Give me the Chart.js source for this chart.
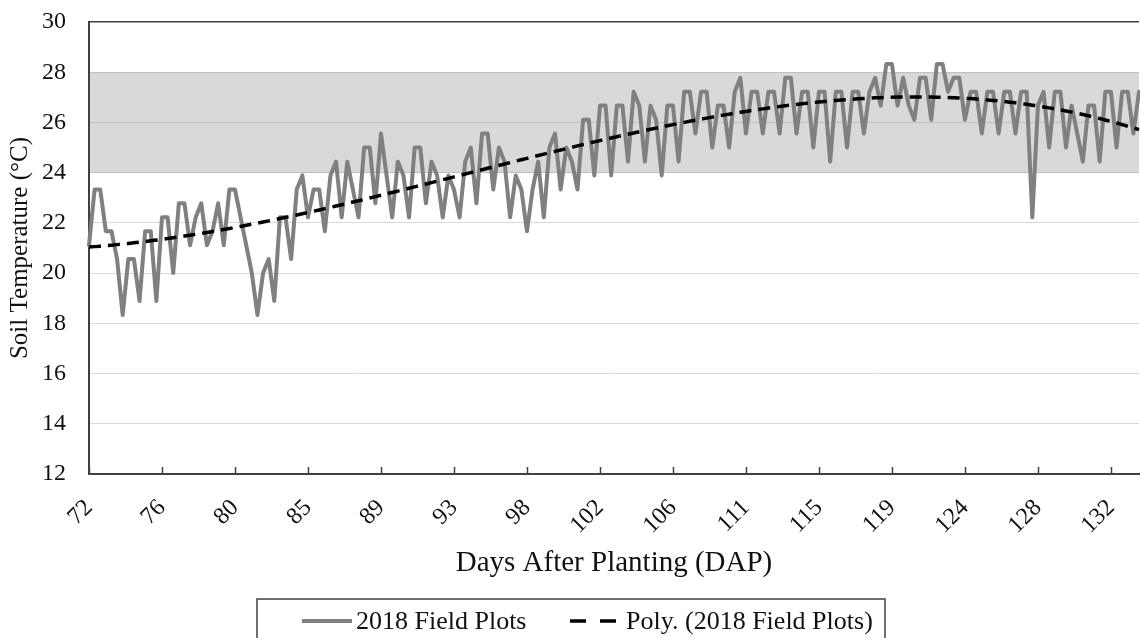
<!DOCTYPE html>
<html>
<head>
<meta charset="utf-8">
<script src="https://cdn.jsdelivr.net/npm/chart.js@4.4.1/dist/chart.umd.min.js"></script>
<style>
  html, body { margin: 0; padding: 0; background: #ffffff; overflow: hidden; }
  #wrap { width: 1140px; height: 638px; position: relative; }
</style>
</head>
<body>
<div id="wrap"><canvas id="soilChart" width="1140" height="638"></canvas></div>
<script>
// Soil temperature (°C) in the 2018 field plots, three readings per day from 72 DAP
const soilTemp2018 = [
  21.11, 23.33, 23.33, 21.67, 21.67, 20.56, 18.33, 20.56, 20.56, 18.89,
  21.67, 21.67, 18.89, 22.22, 22.22, 20.00, 22.78, 22.78, 21.11, 22.22,
  22.78, 21.11, 21.67, 22.78, 21.11, 23.33, 23.33, 22.22, 21.11, 20.00,
  18.33, 20.00, 20.56, 18.89, 22.22, 22.22, 20.56, 23.33, 23.89, 22.22,
  23.33, 23.33, 21.67, 23.89, 24.44, 22.22, 24.44, 23.33, 22.22, 25.00,
  25.00, 22.78, 25.56, 23.89, 22.22, 24.44, 23.89, 22.22, 25.00, 25.00,
  22.78, 24.44, 23.89, 22.22, 23.89, 23.33, 22.22, 24.44, 25.00, 22.78,
  25.56, 25.56, 23.33, 25.00, 24.44, 22.22, 23.89, 23.33, 21.67, 23.33,
  24.44, 22.22, 25.00, 25.56, 23.33, 25.00, 24.44, 23.33, 26.11, 26.11,
  23.89, 26.67, 26.67, 23.89, 26.67, 26.67, 24.44, 27.22, 26.67, 24.44,
  26.67, 26.11, 23.89, 26.67, 26.67, 24.44, 27.22, 27.22, 25.56, 27.22,
  27.22, 25.00, 26.67, 26.67, 25.00, 27.22, 27.78, 25.56, 27.22, 27.22,
  25.56, 27.22, 27.22, 25.56, 27.78, 27.78, 25.56, 27.22, 27.22, 25.00,
  27.22, 27.22, 24.44, 27.22, 27.22, 25.00, 27.22, 27.22, 25.56, 27.22,
  27.78, 26.67, 28.33, 28.33, 26.67, 27.78, 26.67, 26.11, 27.78, 27.78,
  26.11, 28.33, 28.33, 27.22, 27.78, 27.78, 26.11, 27.22, 27.22, 25.56,
  27.22, 27.22, 25.56, 27.22, 27.22, 25.56, 27.22, 27.22, 22.22, 26.67,
  27.22, 25.00, 27.22, 27.22, 25.00, 26.67, 25.56, 24.44, 26.67, 26.67,
  24.44, 27.22, 27.22, 25.00, 27.22, 27.22, 25.56, 27.22
];

const firstDay = 72;          // DAP of the first reading
const readingsPerDay = 3;
const labelEvery = 13;        // one day label per 13 readings
const optimalBand = [24, 28]; // shaded temperature range (°C)
const yRange = [12, 30];
const yStep = 2;
const trendOrder = 3;         // order of the polynomial trend line

const seriesName = '2018 Field Plots';
const trendName = 'Poly. (2018 Field Plots)';

// Category per reading: the planting day it falls on
const categories = soilTemp2018.map((_, i) => String(Math.floor(firstDay + i / readingsPerDay)));

// Least-squares polynomial trend through the readings
function polyTrend(ys, order) {
  const n = ys.length;
  const xs = ys.map((_, i) => i / (n - 1));
  const m = order + 1;
  const A = Array.from({ length: m }, () => new Array(m + 1).fill(0));
  for (let i = 0; i < n; i++) {
    const p = [];
    for (let k = 0; k < m; k++) p.push(Math.pow(xs[i], k));
    for (let r = 0; r < m; r++) {
      for (let c = 0; c < m; c++) A[r][c] += p[r] * p[c];
      A[r][m] += p[r] * ys[i];
    }
  }
  for (let col = 0; col < m; col++) {
    let piv = col;
    for (let r = col + 1; r < m; r++) if (Math.abs(A[r][col]) > Math.abs(A[piv][col])) piv = r;
    [A[col], A[piv]] = [A[piv], A[col]];
    for (let r = 0; r < m; r++) {
      if (r === col) continue;
      const f = A[r][col] / A[col][col];
      for (let c = col; c <= m; c++) A[r][c] -= f * A[col][c];
    }
  }
  const coef = A.map((row, r) => row[m] / row[r]);
  return xs.map(x => coef.reduce((s, c, k) => s + c * Math.pow(x, k), 0));
}
const trend2018 = polyTrend(soilTemp2018, trendOrder);

const SERIF = '"Liberation Serif", "Times New Roman", serif';
const TICK_FONT = { family: SERIF, size: 24 };
const XTITLE_FONT = { family: SERIF, size: 29 };
const YTITLE_FONT = { family: SERIF, size: 25 };
const LEGEND_FONT = { family: SERIF, size: 26 };
const TEXT = '#111111';
const AXIS = '#404040';

// Grey band behind the grid marking the optimal range
const bandPlugin = {
  id: 'optimalBand',
  beforeDraw(chart, args, opts) {
    const { ctx, chartArea: a, scales: { y } } = chart;
    const top = y.getPixelForValue(optimalBand[1]);
    const bottom = y.getPixelForValue(optimalBand[0]);
    ctx.save();
    ctx.fillStyle = opts.color;
    ctx.fillRect(a.left, top, a.right - a.left, bottom - top);
    ctx.restore();
  }
};

// Short inward tick marks on the day axis
const innerTicksPlugin = {
  id: 'innerTicks',
  afterDraw(chart, args, opts) {
    const { ctx, scales: { x } } = chart;
    ctx.save();
    ctx.strokeStyle = opts.color;
    ctx.lineWidth = opts.width;
    x.ticks.forEach((t, k) => {
      const px = Math.round(x.getPixelForTick(k)) + 0.5;
      ctx.beginPath();
      ctx.moveTo(px, x.top);
      ctx.lineTo(px, x.top - opts.length);
      ctx.stroke();
    });
    ctx.restore();
  }
};

// Framed legend under the chart
const framedLegendPlugin = {
  id: 'framedLegend',
  afterDraw(chart, args, opts) {
    const ctx = chart.ctx;
    const f = opts.frame;
    ctx.save();
    ctx.fillStyle = '#ffffff';
    ctx.fillRect(f.left, f.top, f.right - f.left, f.bottom - f.top);
    ctx.strokeStyle = opts.frameColor;
    ctx.lineWidth = 1.5;
    ctx.strokeRect(f.left, f.top, f.right - f.left, f.bottom - f.top);
    ctx.font = `${LEGEND_FONT.size}px ${LEGEND_FONT.family}`;
    ctx.textBaseline = 'middle';
    ctx.textAlign = 'left';
    chart.data.datasets.forEach((ds, i) => {
      const it = opts.items[i];
      ctx.save();
      ctx.strokeStyle = ds.borderColor;
      ctx.lineWidth = ds.borderWidth;
      ctx.setLineDash(it.dash || []);
      ctx.beginPath();
      ctx.moveTo(it.x, opts.y);
      ctx.lineTo(it.x + it.w, opts.y);
      ctx.stroke();
      ctx.restore();
      ctx.fillStyle = TEXT;
      ctx.fillText(ds.label, it.textX, opts.y + 1);
    });
    ctx.restore();
  }
};

new Chart(document.getElementById('soilChart'), {
  type: 'line',
  data: {
    labels: categories,
    datasets: [
      {
        label: seriesName,
        data: soilTemp2018,
        borderColor: '#808080',
        borderWidth: 4,
        pointRadius: 0,
        tension: 0,
        borderJoinStyle: 'round',
        borderCapStyle: 'round',
        order: 1
      },
      {
        label: trendName,
        data: trend2018,
        borderColor: '#000000',
        borderWidth: 3.5,
        borderDash: [12, 7],
        pointRadius: 0,
        tension: 0,
        order: 0
      }
    ]
  },
  options: {
    responsive: false,
    animation: false,
    devicePixelRatio: 1,
    events: [],
    layout: { padding: { top: 22, right: 1, bottom: 57, left: 0 } },
    plugins: {
      legend: { display: false },
      tooltip: { enabled: false },
      optimalBand: { color: '#d9d9d9' },
      innerTicks: { color: AXIS, width: 1.5, length: 7 },
      framedLegend: {
        frame: { left: 257, top: 599, right: 885, bottom: 660 },
        frameColor: AXIS,
        y: 621,
        items: [
          { x: 302, w: 50, textX: 356 },
          { x: 570, w: 46, dash: [16, 14], textX: 626 }
        ]
      }
    },
    scales: {
      x: {
        type: 'category',
        offset: false,
        grid: { display: true, drawOnChartArea: false, drawTicks: false },
        border: { display: true, color: AXIS, width: 2 },
        ticks: {
          autoSkip: false,
          minRotation: 45,
          maxRotation: 45,
          padding: 20,
          font: TICK_FONT,
          color: TEXT
        },
        afterBuildTicks: s => { s.ticks = s.ticks.filter((t, i) => i % labelEvery === 0); },
        afterFit: s => {
          s.height = 107;
          s.paddingLeft = 0;
          s.paddingRight = 0;
        },
        title: {
          display: true,
          text: 'Days After Planting (DAP)',
          font: XTITLE_FONT,
          color: TEXT,
          padding: { top: 0, bottom: 0 }
        }
      },
      y: {
        min: yRange[0],
        max: yRange[1],
        ticks: { stepSize: yStep, padding: 23, font: TICK_FONT, color: TEXT },
        grid: {
          drawTicks: false,
          color: c => {
            const v = c.tick.value;
            if (v === yRange[1]) return AXIS;
            if (v >= optimalBand[0] && v <= optimalBand[1]) return '#bfbfbf';
            return '#d9d9d9';
          },
          lineWidth: c => (c.tick.value === yRange[1] ? 1.5 : 1)
        },
        border: { display: true, color: AXIS, width: 2 },
        afterFit: s => {
          s.width = 89;
          s.paddingTop = 14;
          s.paddingBottom = 14;
        },
        title: {
          display: true,
          text: 'Soil Temperature (°C)',
          font: YTITLE_FONT,
          color: TEXT,
          padding: { top: 5, bottom: 0 }
        }
      }
    }
  },
  plugins: [bandPlugin, innerTicksPlugin, framedLegendPlugin]
});
</script>
</body>
</html>
